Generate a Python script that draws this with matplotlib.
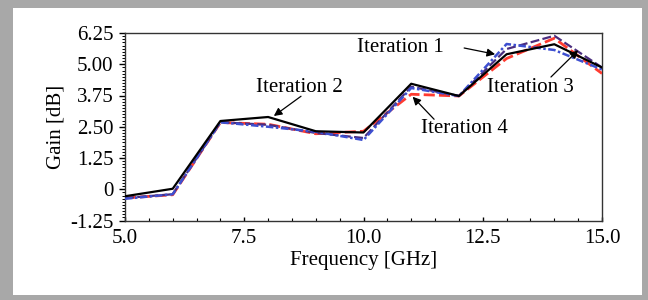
import matplotlib
matplotlib.use("Agg")
import matplotlib.pyplot as plt
from matplotlib.patches import Rectangle
from matplotlib.ticker import MultipleLocator, FixedLocator, FixedFormatter

freq = [5, 6, 7, 8, 9, 10, 11, 12, 13, 14, 15]
iter1 = [-0.38, -0.20, 2.68, 2.50, 2.30, 1.97, 4.05, 3.73, 5.81, 5.57, 4.79]   # blue dash-dot
iter2 = [-0.28, 0.02, 2.73, 2.89, 2.32, 2.27, 4.22, 3.73, 5.40, 5.80, 4.87]    # black solid
iter3 = [-0.35, -0.20, 2.68, 2.58, 2.25, 2.05, 4.10, 3.73, 5.61, 6.14, 4.87]   # purple dashed
iter4 = [-0.35, -0.22, 2.67, 2.60, 2.22, 2.32, 3.80, 3.73, 5.23, 6.04, 4.63]   # red dashed

yticks = [-1.25, 0, 1.25, 2.5, 3.75, 5.0, 6.25]
ylabels = ["-1.25", "0", "1.25", "2.50", "3.75", "5.00", "6.25"]
xticks = [5.0, 7.5, 10.0, 12.5, 15.0]
xlabels = ["5.0", "7.5", "10.0", "12.5", "15.0"]

# annotation labels: text position, arrow tail, arrow head (data coords)
ann_text = ["Iteration 1", "Iteration 2", "Iteration 3", "Iteration 4"]
ann_pos = [(10.77, 5.69), (8.65, 4.08), (13.51, 4.08), (12.11, 2.44)]
ann_tail = [(12.11, 5.65), (8.69, 3.72), (13.93, 4.49), (11.48, 2.80)]
ann_head = [(12.76, 5.40), (8.12, 2.93), (14.50, 5.56), (11.03, 3.70)]

plt.rcParams['font.family'] = ['Liberation Serif', 'DejaVu Serif']
plt.rcParams['font.size'] = 15

fig = plt.figure(figsize=(6.48, 3.0), dpi=100)
fig.patch.set_facecolor('#a8a8a8')
fig.patches.append(Rectangle((13/648, 5/300), (642-13)/648, (292-5)/300,
                             transform=fig.transFigure, facecolor='white',
                             edgecolor='none', zorder=-10))

ax = fig.add_axes([125/648, 1-220.5/300, (602-125)/648, (220.5-33)/300])
ax.set_zorder(1)
ax.set_facecolor('white')

ax.plot(freq, iter4, color='#ff3b30', lw=2.0, ls=(0, (4, 1.5)), zorder=3)
ax.plot(freq, iter3, color='#4a2d7e', lw=1.6, ls=(0, (4, 1.5)), zorder=3)
ax.plot(freq, iter1, color='#3d4fd0', lw=1.8, ls=(0, (3, 1, 1, 1)), zorder=3)
ax.plot(freq, iter2, color='black', lw=1.6, zorder=4)

ax.set_xlim(5, 15)
ax.set_ylim(-1.25, 6.25)
ax.yaxis.set_major_locator(FixedLocator(yticks))
ax.yaxis.set_major_formatter(FixedFormatter(ylabels))
ax.yaxis.set_minor_locator(MultipleLocator(0.125))
ax.xaxis.set_major_locator(FixedLocator(xticks))
ax.xaxis.set_major_formatter(FixedFormatter(xlabels))
ax.xaxis.set_minor_locator(MultipleLocator(0.5))

ax.tick_params(axis='y', which='major', direction='out', length=4.5, width=1, pad=4)
ax.tick_params(axis='y', which='minor', direction='out', length=2.5, width=0.7)
ax.tick_params(axis='x', which='major', direction='in', length=3, width=1, pad=6)
ax.tick_params(axis='x', which='minor', direction='in', length=2, width=0.8)
for s in ax.spines.values():
    s.set_linewidth(1.0)
    s.set_color('#333333')

ax.set_xlabel("Frequency [GHz]", labelpad=2)
ax.set_ylabel("Gain [dB]", labelpad=3)

for txt, pos, tail, head in zip(ann_text, ann_pos, ann_tail, ann_head):
    ax.text(pos[0], pos[1], txt, ha='center', va='center', zorder=6)
    ax.annotate("", xy=head, xytext=tail,
                arrowprops=dict(arrowstyle='-|>', color='black', lw=0.9,
                                mutation_scale=12, shrinkA=0, shrinkB=0),
                zorder=6)

fig.savefig("out.png", dpi=100, facecolor=fig.get_facecolor())
